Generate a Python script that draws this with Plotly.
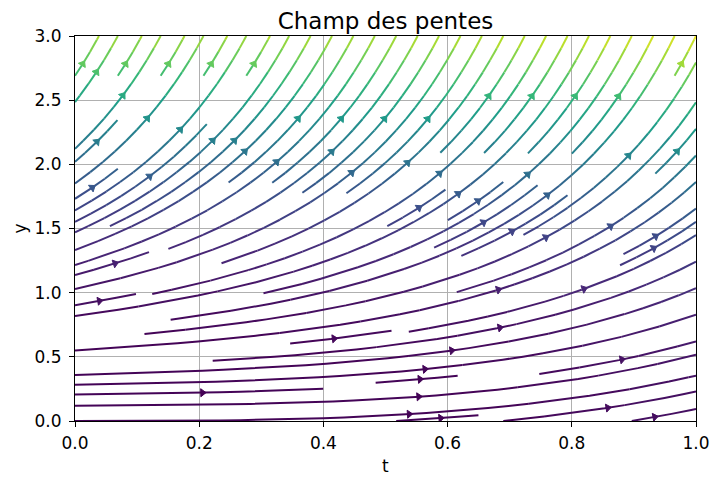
import math
import numpy as np
import plotly.graph_objects as go
from plotly.colors import sample_colorscale

# ---------------- data: slope field of y' = t^2 + y^2 ----------------
t_grid = np.linspace(0.0, 1.0, 20)
y_grid = np.linspace(0.0, 3.0, 20)
T, Y = np.meshgrid(t_grid, y_grid)
slope = T**2 + Y**2
norm_field = np.sqrt(1.0 + slope**2)
U = 1.0 / norm_field
V = slope / norm_field
color_field = norm_field

x_ticks = [0.0, 0.2, 0.4, 0.6, 0.8, 1.0]
x_ticktext = ["0.0", "0.2", "0.4", "0.6", "0.8", "1.0"]
y_ticks = [0.0, 0.5, 1.0, 1.5, 2.0, 2.5, 3.0]
y_ticktext = ["0.0", "0.5", "1.0", "1.5", "2.0", "2.5", "3.0"]

title_text = "Champ des pentes"
x_label = "t"
y_label = "y"

# ---------------- streamline integration (matplotlib-like) ----------------
class _OOB(Exception):
    pass


class _Term(Exception):
    pass


class _Inv(Exception):
    pass


def _interp(a, xi, yi):
    Ny, Nx = a.shape
    x = int(xi)
    y = int(yi)
    xn = x if x == Nx - 1 else x + 1
    yn = y if y == Ny - 1 else y + 1
    xt = xi - x
    yt = yi - y
    a0 = a[y, x] * (1 - xt) + a[y, xn] * xt
    a1 = a[yn, x] * (1 - xt) + a[yn, xn] * xt
    return a0 * (1 - yt) + a1 * yt


def _interp_arr(a, xi, yi):
    Ny, Nx = a.shape
    x = xi.astype(int)
    y = yi.astype(int)
    xn = np.clip(x + 1, 0, Nx - 1)
    yn = np.clip(y + 1, 0, Ny - 1)
    xt = xi - x
    yt = yi - y
    a0 = a[y, x] * (1 - xt) + a[y, xn] * xt
    a1 = a[yn, x] * (1 - xt) + a[yn, xn] * xt
    return a0 * (1 - yt) + a1 * yt


def _starting_points(shape):
    ny, nx = shape
    xfirst, yfirst = 0, 1
    xlast, ylast = nx - 1, ny - 1
    x, y = 0, 0
    direction = "right"
    for _ in range(nx * ny):
        yield x, y
        if direction == "right":
            x += 1
            if x >= xlast:
                xlast -= 1
                direction = "up"
        elif direction == "up":
            y += 1
            if y >= ylast:
                ylast -= 1
                direction = "left"
        elif direction == "left":
            x -= 1
            if x <= xfirst:
                xfirst += 1
                direction = "down"
        elif direction == "down":
            y -= 1
            if y <= yfirst:
                yfirst += 1
                direction = "right"


def compute_streamlines(xv, yv, u, v, density=1.0, minlength=0.1, maxlength=4.0):
    nx, ny = len(xv), len(yv)
    dx = xv[1] - xv[0]
    dy = yv[1] - yv[0]
    mnx = mny = int(30 * density)
    mask = np.zeros((mny, mnx))
    x_g2m = (mnx - 1) / (nx - 1)
    y_g2m = (mny - 1) / (ny - 1)
    st = {"cur": None, "traj": []}

    def within(xi, yi):
        return 0 <= xi <= nx - 1 and 0 <= yi <= ny - 1

    def g2m(xi, yi):
        return round(xi * x_g2m), round(yi * y_g2m)

    def upd(xm, ym):
        if st["cur"] != (xm, ym):
            if mask[ym, xm] == 0:
                st["traj"].append((ym, xm))
                mask[ym, xm] = 1
                st["cur"] = (xm, ym)
            else:
                raise _Inv

    def start(xg, yg):
        xm, ym = g2m(xg, yg)
        st["traj"] = []
        upd(xm, ym)

    def reset(xg, yg):
        st["cur"] = g2m(xg, yg)

    def update(xg, yg):
        if not within(xg, yg):
            raise _Inv
        xm, ym = g2m(xg, yg)
        upd(xm, ym)

    def undo():
        for tt in st["traj"]:
            mask[tt] = 0

    ug = u / dx
    vg = v / dy
    spd = np.sqrt((ug / (nx - 1)) ** 2 + (vg / (ny - 1)) ** 2)

    def fwd(xi, yi):
        if not within(xi, yi):
            raise _OOB
        ds_dt = _interp(spd, xi, yi)
        if ds_dt == 0:
            raise _Term
        dt_ds = 1.0 / ds_dt
        return _interp(ug, xi, yi) * dt_ds, _interp(vg, xi, yi) * dt_ds

    def bwd(xi, yi):
        a, b = fwd(xi, yi)
        return -a, -b

    def euler(traj, f):
        xi, yi = traj[-1]
        cx, cy = f(xi, yi)
        if cx == 0:
            dsx = np.inf
        elif cx < 0:
            dsx = xi / -cx
        else:
            dsx = (nx - 1 - xi) / cx
        if cy == 0:
            dsy = np.inf
        elif cy < 0:
            dsy = yi / -cy
        else:
            dsy = (ny - 1 - yi) / cy
        d = min(dsx, dsy)
        traj.append((xi + cx * d, yi + cy * d))
        return d, traj

    def rk12(x0, y0, f):
        maxerror = 0.003
        maxds = min(1.0 / mnx, 1.0 / mny, 0.1)
        ds = maxds
        stotal = 0.0
        xi, yi = x0, y0
        traj = []
        while True:
            try:
                if within(xi, yi):
                    traj.append((xi, yi))
                else:
                    raise _OOB
                k1x, k1y = f(xi, yi)
                k2x, k2y = f(xi + ds * k1x, yi + ds * k1y)
            except _OOB:
                if traj:
                    d, traj = euler(traj, f)
                    stotal += d
                break
            except _Term:
                break
            dx1 = ds * k1x
            dy1 = ds * k1y
            dx2 = ds * 0.5 * (k1x + k2x)
            dy2 = ds * 0.5 * (k1y + k2y)
            error = math.hypot((dx2 - dx1) / (nx - 1), (dy2 - dy1) / (ny - 1))
            if error < maxerror:
                xi += dx2
                yi += dy2
                try:
                    update(xi, yi)
                except _Inv:
                    break
                if stotal + ds > maxlength:
                    break
                stotal += ds
            if error == 0:
                ds = maxds
            else:
                ds = min(maxds, 0.85 * ds * (maxerror / error) ** 0.5)
        return stotal, traj

    def integrate(x0, y0):
        try:
            start(x0, y0)
        except _Inv:
            return None
        stotal = 0.0
        s, xyt = rk12(x0, y0, bwd)
        stotal += s
        xy = xyt[::-1]
        reset(x0, y0)
        s, xyt = rk12(x0, y0, fwd)
        stotal += s
        xy += xyt[1:]
        if stotal > minlength:
            return np.array(xy)
        undo()
        return None

    trajs = []
    for xm, ym in _starting_points(mask.shape):
        if mask[ym, xm] == 0:
            xg, yg = xm / x_g2m, ym / y_g2m
            tr = integrate(xg, yg)
            if tr is not None:
                trajs.append(tr)
    out = []
    for tr in trajs:
        tgx, tgy = tr[:, 0], tr[:, 1]
        out.append((tgx, tgy, tgx * dx + xv[0], tgy * dy + yv[0]))
    return out


lines = compute_streamlines(t_grid, y_grid, U, V)

cmin, cmax = color_field.min(), color_field.max()
NB = 64
bin_colors = sample_colorscale("Viridis", [(i + 0.5) / NB for i in range(NB)])
bins_x = [[] for _ in range(NB)]
bins_y = [[] for _ in range(NB)]

# page offset of the default HTML body margin (8 px) is compensated here
OFF = 8
W, H = 720 - OFF, 484 - OFF
ML, MR, MT, MB = 75 - OFF, 24, 36 - OFF, 63
px_x = (W - ML - MR) / 1.0
px_y = (H - MT - MB) / 3.0

arr_x, arr_y, arr_c, arr_a = [], [], [], []
for tgx, tgy, tx, ty in lines:
    cv = _interp_arr(color_field, tgx, tgy)[:-1]
    nv = np.clip((cv - cmin) / (cmax - cmin), 0, 1)
    bi = np.minimum((nv * NB).astype(int), NB - 1)
    i = 0
    nseg = len(tx) - 1
    while i < nseg:
        b = bi[i]
        j = i
        while j + 1 < nseg and bi[j + 1] == b:
            j += 1
        bins_x[b].extend(list(tx[i:j + 2]) + [None])
        bins_y[b].extend(list(ty[i:j + 2]) + [None])
        i = j + 1
    s = np.cumsum(np.hypot(np.diff(tx), np.diff(ty)))
    n = int(np.searchsorted(s, s[-1] / 2.0))
    hx = np.mean(tx[n:n + 2])
    hy = np.mean(ty[n:n + 2])
    ddx = (tx[n + 1] - tx[n]) * px_x
    ddy = (ty[n + 1] - ty[n]) * px_y
    ln = math.hypot(ddx, ddy) or 1.0
    back = 7.0
    arr_x.append(hx - ddx / ln * back / px_x)
    arr_y.append(hy - ddy / ln * back / px_y)
    arr_a.append(math.degrees(math.atan2(ddx, ddy)))
    cval = cv[min(n, len(cv) - 1)]
    arr_c.append(sample_colorscale("Viridis", [float(np.clip((cval - cmin) / (cmax - cmin), 0, 1))])[0])

fig = go.Figure()
for b in range(NB):
    if bins_x[b]:
        fig.add_trace(go.Scatter(
            x=bins_x[b], y=bins_y[b], mode="lines",
            line=dict(color=bin_colors[b], width=2),
            hoverinfo="skip", showlegend=False, connectgaps=False,
        ))
fig.add_trace(go.Scatter(
    x=arr_x, y=arr_y, mode="markers",
    marker=dict(symbol="triangle-up", size=7, color=arr_c, angle=arr_a,
                line=dict(color=arr_c, width=1)),
    hoverinfo="skip", showlegend=False,
))

font_family = "DejaVu Sans"
axis_common = dict(
    showgrid=True, gridcolor="#b0b0b0", gridwidth=1,
    showline=True, linecolor="black", linewidth=1, mirror=True,
    ticks="outside", ticklen=5, tickwidth=1, tickcolor="black",
    zeroline=False, automargin=False,
    tickfont=dict(family=font_family, size=17, color="black"),
)
fig.update_layout(
    width=W, height=H,
    margin=dict(l=ML, r=MR, t=MT, b=MB, pad=0),
    paper_bgcolor="white", plot_bgcolor="white",
    title=dict(text=title_text, x=0.5, xref="paper", xanchor="center",
               y=1 - (21 - OFF) / H, yref="container", yanchor="middle",
               font=dict(family=font_family, size=23, color="black")),
    xaxis=dict(range=[0, 1], tickvals=x_ticks, ticktext=x_ticktext,
               ticklabelstandoff=2, **axis_common),
    yaxis=dict(range=[0, 3], tickvals=y_ticks, ticktext=y_ticktext,
               ticklabelstandoff=4, **axis_common),
    showlegend=False,
    annotations=[
        dict(text=x_label, xref="paper", yref="paper", x=0.5, y=0,
             xanchor="center", yanchor="middle", yshift=-45, showarrow=False,
             font=dict(family=font_family, size=17, color="black")),
        dict(text=y_label, xref="paper", yref="paper", x=0, y=0.5,
             xanchor="center", yanchor="middle", xshift=-56, textangle=-90,
             showarrow=False,
             font=dict(family=font_family, size=17, color="black")),
    ],
)

fig.write_html("out.html")
